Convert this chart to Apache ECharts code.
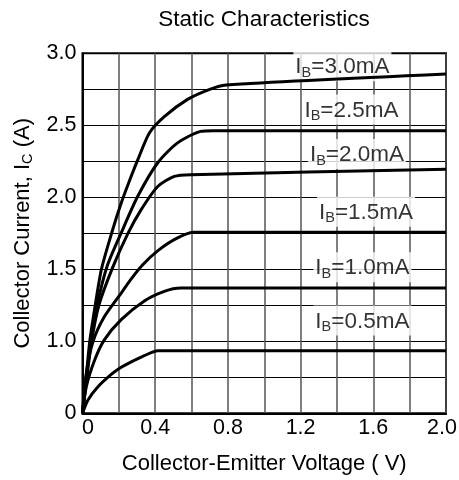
<!DOCTYPE html>
<html>
<head>
<meta charset="utf-8">
<script src="https://cdn.jsdelivr.net/npm/echarts@6/dist/echarts.min.js"></script>
<style>html,body{margin:0;padding:0;background:#fff;}#c{width:459px;height:480px;}</style>
</head>
<body>
<div id="c"></div>
<script>
// Collector-emitter voltage (V) and collector current (A) for each base current
const ibLabels = ['3.0', '2.5', '2.0', '1.5', '1.0', '0.5'];
const v30 = [0, 0.02, 0.04, 0.07, 0.104, 0.16, 0.213, 0.26, 0.304, 0.368, 0.45, 0.578, 0.7, 0.79, 2.0];
const i30 = [0, 0.5, 1.0, 1.25, 1.5, 1.75, 1.96, 2.12, 2.26, 2.447, 2.56, 2.68, 2.75, 2.78, 2.856];
const v25 = [0, 0.02, 0.045, 0.08, 0.135, 0.213, 0.304, 0.414, 0.523, 0.65, 0.72, 2.0];
const i25 = [0, 0.45, 1.0, 1.25, 1.52, 1.753, 2.007, 2.24, 2.378, 2.458, 2.463, 2.463];
const v20 = [0, 0.02, 0.05, 0.09, 0.165, 0.25, 0.322, 0.414, 0.505, 0.596, 2.0];
const i20 = [0, 0.42, 1.0, 1.25, 1.51, 1.75, 1.913, 2.075, 2.145, 2.157, 2.195];
const v15 = [0, 0.021, 0.057, 0.12, 0.214, 0.26, 0.33, 0.415, 0.523, 0.615, 2.0];
const i15 = [0, 0.555, 0.99, 1.17, 1.336, 1.42, 1.53, 1.63, 1.718, 1.757, 1.757];
const v10 = [0, 0.021, 0.067, 0.12, 0.213, 0.34, 0.45, 0.54, 2.0];
const i10 = [0, 0.37, 0.74, 1.01, 1.15, 1.28, 1.347, 1.37, 1.37];
const v05 = [0, 0.03, 0.085, 0.158, 0.2, 0.25, 0.34, 0.414, 2.0];
const i05 = [0, 0.185, 0.37, 0.54, 0.62, 0.69, 0.8, 0.87, 0.87];

// Curve label anchors (data coordinates: V, A)
const labelV = [1.43, 1.48, 1.51, 1.56, 1.54, 1.54];
const labelI = [2.91, 2.61, 2.30, 1.90, 1.515, 1.145];

const xTicks = [0, 0.4, 0.8, 1.2, 1.6, 2.0];
const yTicks = [0, 1.0, 1.5, 2.0, 2.5, 3.0];

// broken y axis: 0..1 A compressed into the bottom half-unit
function toPlot(a) { return a < 1 ? 0.5 + a / 2 : a; }

const curves = [[v30, i30], [v25, i25], [v20, i20], [v15, i15], [v10, i10], [v05, i05]];
const FONT = 'Liberation Sans, Arial, sans-serif';

const series = curves.map(function (c, k) {
  return {
    type: 'line',
    name: 'IB=' + ibLabels[k] + 'mA',
    data: c[0].map(function (v, j) { return [v, toPlot(c[1][j])]; }),
    showSymbol: false,
    smooth: 0.25,
    lineStyle: { color: '#000', width: 3 },
    z: 3
  };
});

series.push({
  type: 'scatter',
  symbolSize: 0,
  data: labelV.map(function (v, k) { return { value: [v, toPlot(labelI[k])], name: ibLabels[k] }; }),
  z: 2,
  label: {
    show: true,
    position: 'inside',
    backgroundColor: '#fff',
    padding: [3, 2, 1, 2],
    formatter: function (p) { return '{m|I}{s|B}{m|=' + p.name + 'mA}'; },
    rich: {
      m: { fontFamily: FONT, fontSize: 22.5, color: '#000', lineHeight: 26 },
      s: { fontFamily: FONT, fontSize: 14.5, color: '#000', verticalAlign: 'bottom', lineHeight: 20 }
    }
  }
});

const chart = echarts.init(document.getElementById('c'), null, { renderer: 'canvas' });
chart.setOption({
  animation: false,
  backgroundColor: '#fff',
  title: {
    text: 'Static Characteristics',
    left: 259, top: 3, textAlign: 'center',
    textStyle: { fontFamily: FONT, fontSize: 22.5, fontWeight: 'normal', color: '#000' }
  },
  grid: { left: 82.5, right: 13, top: 53.3, bottom: 66.7, outerBoundsMode: 'none', containLabel: false, show: true, borderColor: '#000', borderWidth: 2, backgroundColor: 'transparent' },
  xAxis: {
    type: 'value', min: 0, max: 2.0, interval: 0.2,
    name: 'Collector-Emitter Voltage ( V)', nameLocation: 'middle', nameGap: 40,
    nameTextStyle: { fontFamily: FONT, fontSize: 22, color: '#000' },
    axisLine: { show: true, lineStyle: { color: '#000', width: 2 } },
    axisTick: { show: false },
    axisLabel: {
      fontFamily: FONT, fontSize: 21.5, color: '#000', margin: 4,
      formatter: function (v) {
        for (var i = 0; i < xTicks.length; i++) {
          if (Math.abs(v - xTicks[i]) < 1e-6) {
            if (i === 0) return '{l|0}';
            if (i === xTicks.length - 1) return '{r|' + v.toFixed(1) + '}';
            return v.toFixed(1);
          }
        }
        return '';
      },
      rich: {
        l: { fontFamily: FONT, fontSize: 21.5, color: '#000', padding: [0, 0, 0, 11] },
        r: { fontFamily: FONT, fontSize: 21.5, color: '#000', padding: [0, 8, 0, 0] }
      }
    },
    splitLine: { show: true, lineStyle: { color: '#555', width: 1.5 } }
  },
  yAxis: {
    type: 'value', min: 0.5, max: 3.0, interval: 0.25,
    name: '{m|Collector Current, I}{s|C}{m| (A)}', nameLocation: 'middle', nameGap: 47, nameRotate: 90,
    nameTextStyle: {
      rich: {
        m: { fontFamily: FONT, fontSize: 22, color: '#000', lineHeight: 26 },
        s: { fontFamily: FONT, fontSize: 14.5, color: '#000', verticalAlign: 'bottom', lineHeight: 20 }
      }
    },
    axisLine: { show: true, lineStyle: { color: '#000', width: 2 } },
    axisTick: { show: false },
    axisLabel: {
      fontFamily: FONT, fontSize: 21.5, color: '#000', margin: 6,
      formatter: function (v) {
        if (Math.abs(v - 0.5) < 1e-6) return String(yTicks[0]);
        for (var i = 1; i < yTicks.length; i++) if (Math.abs(v - yTicks[i]) < 1e-6) return v.toFixed(1);
        return '';
      }
    },
    splitLine: { show: true, lineStyle: { color: '#000', width: 1 } }
  },
  series: series
});
</script>
</body>
</html>
